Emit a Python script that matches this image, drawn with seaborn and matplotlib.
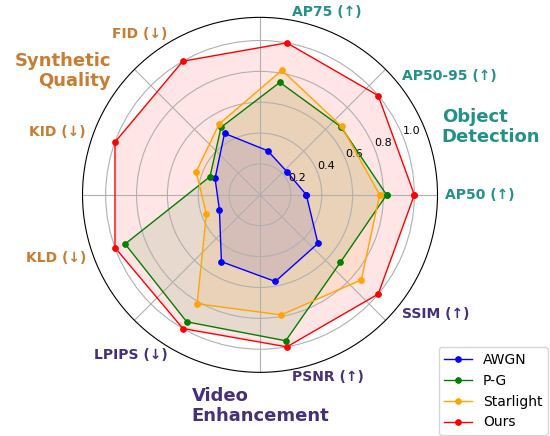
import numpy as np
import pandas as pd
import matplotlib
matplotlib.use("Agg")
import matplotlib.pyplot as plt
import seaborn as sns

# Metrics (normalised so that the best method scores 1.0 on every axis)
metrics = ["AP50 (↑)", "AP50-95 (↑)", "AP75 (↑)",
           "FID (↓)", "KID (↓)", "KLD (↓)",
           "LPIPS (↓)", "PSNR (↑)", "SSIM (↑)"]
awgn = [0.30, 0.23, 0.29, 0.46, 0.31, 0.28, 0.50, 0.57, 0.49]
pg = [0.82, 0.685, 0.74, 0.505, 0.345, 0.93, 0.95, 0.96, 0.68]
starlight = [0.775, 0.69, 0.82, 0.53, 0.44, 0.37, 0.815, 0.79, 0.857]
ours = [1.0, 1.0, 1.0, 1.0, 1.0, 1.0, 1.0, 1.0, 1.0]

methods = ["AWGN", "P-G", "Starlight", "Ours"]
method_values = [awgn, pg, starlight, ours]
method_colors = ["blue", "green", "orange", "red"]

groups = ["Object\nDetection", "Synthetic\nQuality", "Video\nEnhancement"]
group_colors = ["#23918a", "#c87d33", "#46307c"]
metric_group = [0, 0, 0, 1, 1, 1, 2, 2, 2]

r_ticks = [0.2, 0.4, 0.6, 0.8, 1.0]

n = len(metrics)
angles = np.linspace(0, 2 * np.pi, n, endpoint=False)
closed_angles = np.concatenate([angles, angles[:1]])

fig = plt.figure(figsize=(5.5, 4.36), dpi=100)
ax = fig.add_axes([0.150, 0.146, 0.6455, 0.8142], projection="polar")

for name, vals, col in zip(methods, method_values, method_colors):
    closed_vals = list(vals) + [vals[0]]
    df = pd.DataFrame({"theta": closed_angles, "r": closed_vals})
    sns.lineplot(data=df, x="theta", y="r", sort=False, estimator=None,
                 color=col, marker="o", markersize=4, markeredgecolor=col,
                 markeredgewidth=0.8, linewidth=1.0, label=name, ax=ax)
    ax.fill(closed_angles, closed_vals, color=col, alpha=0.1, linewidth=0)

ax.set_ylim(0, 1.15)
ax.set_yticks(r_ticks)
ax.set_yticklabels([f"{t:.1f}" for t in r_ticks], fontsize=8)
ax.set_xticklabels([])
ax.set_xlabel("")
ax.set_ylabel("")

# Metric names around the outside
for ang, lab, g in zip(angles, metrics, metric_group):
    c = np.cos(ang)
    ha = "left" if c > 0.01 else ("right" if c < -0.01 else "center")
    ax.text(ang, 1.2, lab, ha=ha, va="center", fontsize=10,
            fontweight="bold", color=group_colors[g])

# Group titles
fig.text(441.7 / 550, 1 - 127 / 436, groups[0], ha="left", va="center",
         fontsize=13, fontweight="bold", color=group_colors[0])
fig.text(111 / 550, 1 - 71 / 436, groups[1], ha="right", va="center",
         fontsize=13, fontweight="bold", color=group_colors[1])
fig.text(191.7 / 550, 1 - 406 / 436, groups[2], ha="left", va="center",
         fontsize=13, fontweight="bold", color=group_colors[2])

handles, labels = ax.get_legend_handles_labels()
if ax.get_legend() is not None:
    ax.get_legend().remove()
fig.legend(handles, labels, loc="lower right",
           bbox_to_anchor=(548 / 550, 1 / 436), borderaxespad=0,
           fontsize=10)

fig.savefig("out.png", dpi=100)
